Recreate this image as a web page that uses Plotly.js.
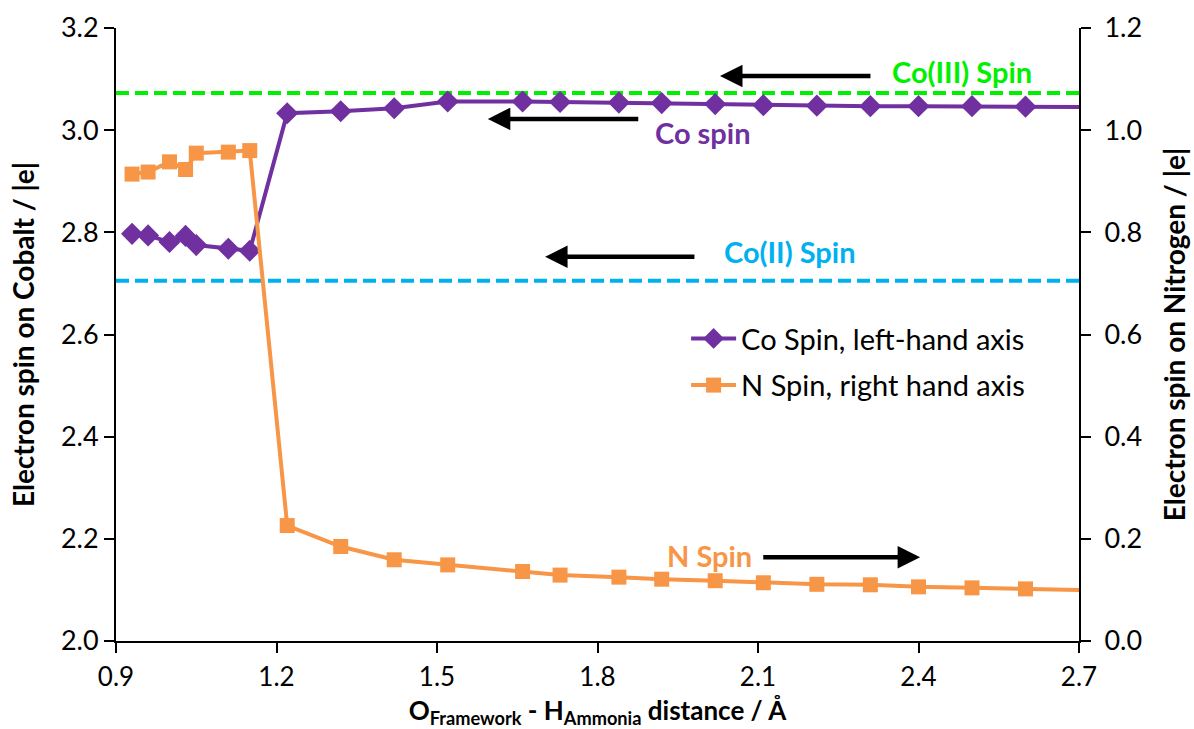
<!DOCTYPE html>
<html>
<head>
<meta charset="utf-8">
<script src="https://cdn.plot.ly/plotly-3.0.1.min.js"></script>
<style>html,body{margin:0;padding:0;background:#fff;}#chart{width:1194px;height:729px;}</style>
</head>
<body>
<div id="chart"></div>
<script>
// O(framework) - H(ammonia) distance / Å
const distance = [0.93, 0.96, 1.00, 1.03, 1.05, 1.11, 1.15, 1.22, 1.32, 1.42, 1.52, 1.66, 1.73, 1.84, 1.92, 2.02, 2.11, 2.21, 2.31, 2.40, 2.50, 2.60, 2.75];
// Electron spin on cobalt (left axis)
const coSpin = [2.797, 2.794, 2.781, 2.793, 2.775, 2.768, 2.764, 3.033, 3.037, 3.043, 3.056, 3.056, 3.055, 3.054, 3.053, 3.051, 3.049, 3.048, 3.047, 3.047, 3.047, 3.046, 3.045];
// Electron spin on nitrogen (right axis)
const nSpin = [0.914, 0.918, 0.938, 0.923, 0.955, 0.957, 0.960, 0.226, 0.185, 0.159, 0.149, 0.136, 0.129, 0.125, 0.121, 0.118, 0.114, 0.111, 0.110, 0.106, 0.104, 0.102, 0.099];
// Reference spin levels (left axis)
const coIIISpin = 3.073;
const coIISpin = 2.705;
const xTicks = [0.9, 1.2, 1.5, 1.8, 2.1, 2.4, 2.7];
const yLeftTicks = [2.0, 2.2, 2.4, 2.6, 2.8, 3.0, 3.2];
const yRightTicks = [0.0, 0.2, 0.4, 0.6, 0.8, 1.0, 1.2];

const FONT = 'Lato, "Open Sans", sans-serif';
const PURPLE = '#7030A0', ORANGE = '#F79646', GREEN = '#00F000', BLUE = '#00B0F0';
const TICKSIZE = 27, TITLESIZE = 28, LABELSIZE = 29, LEGENDSIZE = 29;

const traces = [
  {x: distance, y: coSpin, name: 'Co Spin, left-hand axis', type: 'scatter', mode: 'lines+markers',
   line: {color: PURPLE, width: 4}, marker: {symbol: 'diamond', size: 17, color: PURPLE},
   yaxis: 'y', cliponaxis: true, legendgroup: 'co'},
  {x: distance, y: nSpin, name: 'N Spin, right hand axis', type: 'scatter', mode: 'lines+markers',
   line: {color: ORANGE, width: 4}, marker: {symbol: 'square', size: 15, color: ORANGE},
   yaxis: 'y2', cliponaxis: true, legendgroup: 'n'}
];

function arrow(xHead, xTail, y) {
  return {x: xHead, y: y, ax: xTail, ay: y, xref: 'x', yref: 'y', axref: 'x', ayref: 'y',
          text: '', showarrow: true, arrowhead: 2, arrowsize: 1, arrowwidth: 4.5, arrowcolor: '#000'};
}
function label(text, x, y, color) {
  return {x: x, y: y, xref: 'x', yref: 'y', text: '<b>' + text + '</b>', showarrow: false,
          font: {family: FONT, size: LABELSIZE, color: color}};
}
function axisStyle(extra) {
  return Object.assign({showgrid: false, zeroline: false, showline: true, linecolor: '#000', linewidth: 2,
    ticks: 'outside', ticklen: 10, tickwidth: 2, tickcolor: '#000', tickformat: '.1f',
    tickfont: {family: FONT, size: TICKSIZE, color: '#000'}}, extra);
}

const layout = {
  width: 1194, height: 729,
  margin: {l: 116, r: 115, t: 28, b: 88},
  paper_bgcolor: '#fff', plot_bgcolor: '#fff',
  font: {family: FONT, size: 22, color: '#000'},
  showlegend: true,
  legend: {x: 0.592, y: 0.535, xanchor: 'left', yanchor: 'top', bgcolor: 'rgba(0,0,0,0)',
           font: {family: FONT, size: LEGENDSIZE, color: '#000'}, itemwidth: 45, tracegroupgap: 6},
  xaxis: axisStyle({range: [0.9, 2.7], tickvals: xTicks, ticklabelstandoff: 2,
          tickfont: {family: FONT, size: 26, color: '#000'},
          title: {text: '<b>O<sub>Framework</sub> - H<sub>Ammonia</sub> distance / Å</b>',
                  font: {family: FONT, size: 26}, standoff: 12}}),
  yaxis: axisStyle({range: [2.0, 3.2], tickvals: yLeftTicks,
          title: {text: '<b>Electron spin on Cobalt / |e|</b>', font: {family: FONT, size: TITLESIZE}, standoff: 18}}),
  yaxis2: axisStyle({range: [0.0, 1.2], tickvals: yRightTicks, overlaying: 'y', side: 'right', ticklabelstandoff: 8,
           title: {text: '<b>Electron spin on Nitrogen / |e|</b>', font: {family: FONT, size: TITLESIZE}, standoff: 24}}),
  shapes: [
    {type: 'line', xref: 'paper', yref: 'y', x0: 0, x1: 1, y0: coIIISpin, y1: coIIISpin,
     line: {color: GREEN, width: 4, dash: '13px,6px'}, layer: 'below'},
    {type: 'line', xref: 'paper', yref: 'y', x0: 0, x1: 1, y0: coIISpin, y1: coIISpin,
     line: {color: BLUE, width: 4, dash: '13px,6px'}, layer: 'below'}
  ],
  annotations: [
    arrow(2.029, 2.313, 3.106),
    arrow(1.595, 1.879, 3.022),
    arrow(1.702, 1.984, 2.752),
    arrow(2.403, 2.107, 2.164),
    label('Co(III) Spin', 2.481, 3.114, GREEN),
    label('Co spin', 1.997, 2.995, PURPLE),
    label('Co(II) Spin', 2.16, 2.762, BLUE),
    label('N Spin', 2.01, 2.168, ORANGE)
  ]
};

Plotly.newPlot('chart', traces, layout, {displayModeBar: false, staticPlot: true});
</script>
</body>
</html>
